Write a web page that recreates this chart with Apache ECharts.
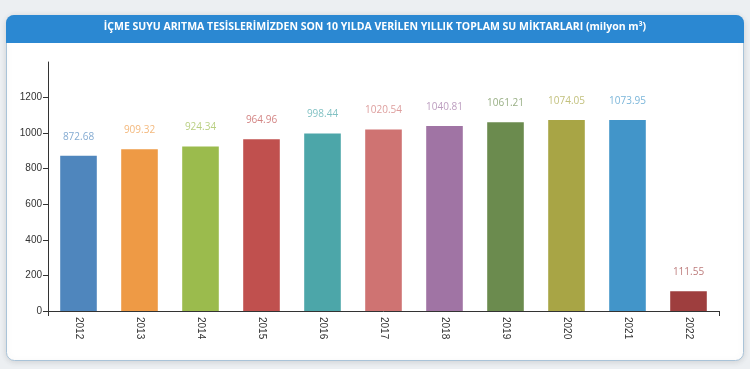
<!DOCTYPE html>
<html><head><meta charset="utf-8">
<script src="https://cdn.jsdelivr.net/npm/echarts@6/dist/echarts.min.js"></script>
<style>html,body{margin:0;padding:0;background:#eceff2;}#c{width:750px;height:369px;}</style>
</head><body><div id="c"></div>
<script>
const categories = ['2012','2013','2014','2015','2016','2017','2018','2019','2020','2021','2022'];
const values = [872.68, 909.32, 924.34, 964.96, 998.44, 1020.54, 1040.81, 1061.21, 1074.05, 1073.95, 111.55];
const barColors = ['#4f86bd','#ee9a45','#9bbb4d','#c0504e','#4ca6a9','#cf7372','#a074a4','#6b8b4e','#a8a545','#4295c9','#9e3e3e'];
const yTicks = [0, 200, 400, 600, 800, 1000, 1200, 1400];
const titleText = 'İÇME SUYU ARITMA TESİSLERİMİZDEN SON 10 YILDA VERİLEN YILLIK TOPLAM SU MİKTARLARI (milyon m³)';

const chart = echarts.init(document.getElementById('c'), null, {renderer: 'canvas'});
chart.setOption({
  backgroundColor: '#eceff2',
  animation: false,
  graphic: [
    {type: 'rect', z: -10, shape: {x: 6.5, y: 15.5, width: 737, height: 345, r: 8},
     style: {fill: '#ffffff', stroke: '#a9c3d8', lineWidth: 1, shadowBlur: 6, shadowColor: 'rgba(0,0,0,0.12)', shadowOffsetY: 1}},
    {type: 'rect', z: -9, shape: {x: 6, y: 15, width: 738, height: 28, r: [8, 8, 0, 0]},
     style: {fill: '#2b88d2'}}
  ],
  title: {
    text: titleText, left: 'center', top: 17,
    textStyle: {color: '#ffffff', fontSize: 10.5, fontWeight: 'bold', fontFamily: 'Open Sans'}
  },
  grid: {left: 48, right: 31, top: 62, bottom: 58},
  xAxis: [{
    type: 'category', data: categories,
    axisLine: {lineStyle: {color: '#333', width: 1}},
    axisTick: {alignWithLabel: true, length: 5, lineStyle: {color: '#333'}},
    axisLabel: {rotate: -90, color: '#333', fontSize: 10, fontFamily: 'Liberation Sans', margin: 6}
  }, {
    type: 'value', min: 0, max: 11, interval: 11, position: 'bottom',
    axisLine: {show: false}, splitLine: {show: false},
    axisTick: {show: true, length: 5, lineStyle: {color: '#333'}},
    axisLabel: {show: false}
  }],
  yAxis: {
    type: 'value', min: yTicks[0], max: yTicks[yTicks.length - 1], interval: 200,
    axisLine: {show: true, lineStyle: {color: '#333'}},
    axisTick: {show: true, length: 5, lineStyle: {color: '#333'}},
    splitLine: {show: false},
    axisLabel: {showMaxLabel: false, color: '#333', fontSize: 10, fontFamily: 'Liberation Sans', margin: 6,
                formatter: v => String(v)}
  },
  series: [{
    type: 'bar', xAxisIndex: 0,
    data: values.map((v, i) => ({
      value: v,
      itemStyle: {color: barColors[i]},
      label: {color: barColors[i], opacity: 0.7}
    })),
    barCategoryGap: '40%',
    label: {show: true, position: 'top', distance: 14, fontSize: 10, fontFamily: 'Open Sans',
            formatter: p => p.value.toFixed(2)}
  }]
});
</script></body></html>
